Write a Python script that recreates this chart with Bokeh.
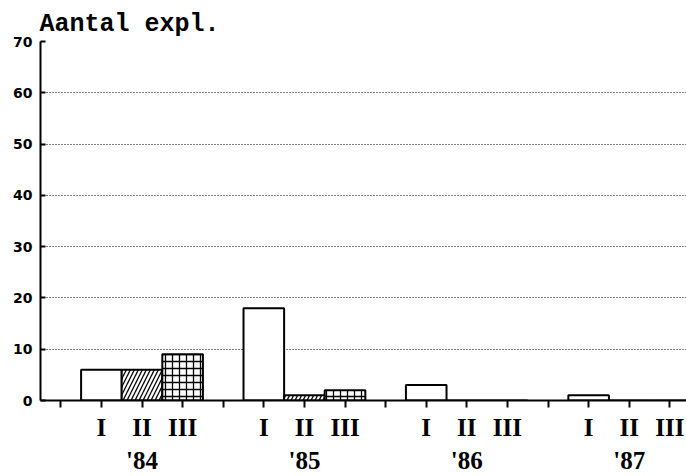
from bokeh.plotting import figure
from bokeh.models import FixedTicker, Range1d, ColumnDataSource, LinearAxis
from bokeh.embed import file_html
from bokeh.resources import INLINE

# ---- data ----
years = ["'84", "'85", "'86", "'87"]
quarters = ["I", "II", "III"]
values_I = [6, 18, 3, 1]
values_II = [6, 1, 0, 0]
values_III = [9, 2, 0, 0]
y_ticks = [0, 10, 20, 30, 40, 50, 60, 70]
y_label = "Aantal expl."

series = [values_I, values_II, values_III]
hatches = [" ", "/", "+"]

# x positions: each year is a group of 3 slots + 1 separator slot
def xpos(g, q):
    return 4 * g + 1 + q

p = figure(width=686, height=476, x_range=Range1d(-0.5, 15.41), y_range=Range1d(0, 70),
           output_backend="svg", toolbar_location=None,
           min_border_left=40, min_border_right=0, min_border_top=41, min_border_bottom=75)
p.outline_line_color = None
p.background_fill_color = "white"
p.border_fill_color = "white"

p.title.text = y_label
p.title.align = "left"
p.title.text_font = "Liberation Mono"
p.title.text_font_size = "25px"
p.title.text_font_style = "bold"
p.title.text_color = "black"
p.title.standoff = 5
p.title.offset = -1

for q, vals in enumerate(series):
    src = ColumnDataSource(dict(x=[xpos(g, q) for g in range(len(years))], top=vals))
    p.vbar(x="x", top="top", bottom=0, width=1.0, source=src,
           fill_color="white", line_color="black", line_width=2,
           hatch_pattern=hatches[q], hatch_color="black", hatch_weight=1.3,
           hatch_scale=8 if q == 1 else 7)

# x axis (quarters)
ticks = list(range(4 * len(years)))
overrides = {}
for t in ticks:
    overrides[t] = ""
for g in range(len(years)):
    for q, name in enumerate(quarters):
        overrides[xpos(g, q)] = name
p.xaxis.ticker = FixedTicker(ticks=ticks)
p.xaxis.major_label_overrides = overrides
p.xaxis.major_label_text_font = "Liberation Serif"
p.xaxis.major_label_text_font_style = "bold"
p.xaxis.major_label_text_font_size = "25px"
p.xaxis.major_label_text_color = "black"
p.xaxis.major_label_standoff = 6
p.xaxis.major_tick_out = 7
p.xaxis.major_tick_in = 0
p.xaxis.minor_tick_line_color = None
p.xaxis.axis_line_width = 2
p.xaxis.major_tick_line_width = 2
p.xaxis.axis_line_color = "black"
p.xaxis.major_tick_line_color = "black"

# second x axis (years)
year_axis = LinearAxis(ticker=FixedTicker(ticks=[xpos(g, 1) for g in range(len(years))]),
                       major_label_overrides={xpos(g, 1): yr for g, yr in enumerate(years)})
year_axis.axis_line_color = None
year_axis.major_tick_line_color = None
year_axis.minor_tick_line_color = None
year_axis.major_tick_out = 0
year_axis.major_tick_in = 0
year_axis.major_label_standoff = 3
year_axis.major_label_text_font = "Liberation Serif"
year_axis.major_label_text_font_style = "bold"
year_axis.major_label_text_font_size = "25px"
year_axis.major_label_text_color = "black"
p.add_layout(year_axis, "below")

# y axis
p.yaxis.ticker = FixedTicker(ticks=y_ticks)
p.yaxis.major_label_text_font = "DejaVu Sans"
p.yaxis.major_label_text_font_style = "bold"
p.yaxis.major_label_text_font_size = "14px"
p.yaxis.major_label_text_color = "black"
p.yaxis.major_label_standoff = 8
p.yaxis.major_tick_out = 0
p.yaxis.major_tick_in = 5
p.yaxis.minor_tick_line_color = None
p.yaxis.axis_line_width = 2
p.yaxis.major_tick_line_width = 2
p.yaxis.axis_line_color = "black"
p.yaxis.major_tick_line_color = "black"

p.xgrid.visible = False
p.ygrid.ticker = FixedTicker(ticks=y_ticks[1:])
p.ygrid.grid_line_color = "black"
p.ygrid.grid_line_dash = "1 2"
p.ygrid.grid_line_width = 1.2

open("out.html", "w").write(file_html(p, INLINE))
